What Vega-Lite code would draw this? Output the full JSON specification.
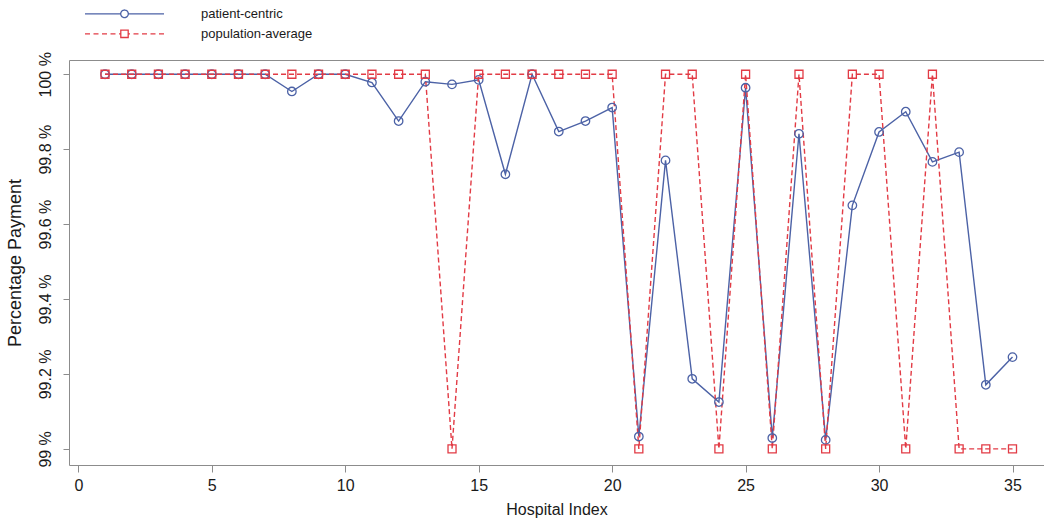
{
  "$schema": "https://vega.github.io/schema/vega-lite/v6.json",
  "width": 975,
  "height": 405,
  "autosize": {"type": "none"},
  "padding": {"left": 69, "top": 60, "right": 0, "bottom": 59},
  "background": "white",
  "config": {
    "view": {"stroke": null},
    "font": "Liberation Sans",
    "axis": {
      "grid": false,
      "domainColor": "#8c8c8c",
      "tickColor": "#8c8c8c",
      "labelColor": "#1a1a1a",
      "titleColor": "#1a1a1a",
      "labelFont": "Liberation Sans",
      "titleFont": "Liberation Sans",
      "titleFontWeight": "normal",
      "labelFontSize": 16,
      "titleFontSize": 16
    }
  },
  "data": {
    "values": [
      {"h": 1, "m": "patient-centric", "v": 100},
      {"h": 2, "m": "patient-centric", "v": 100},
      {"h": 3, "m": "patient-centric", "v": 100},
      {"h": 4, "m": "patient-centric", "v": 100},
      {"h": 5, "m": "patient-centric", "v": 100},
      {"h": 6, "m": "patient-centric", "v": 100},
      {"h": 7, "m": "patient-centric", "v": 100},
      {"h": 8, "m": "patient-centric", "v": 99.954},
      {"h": 9, "m": "patient-centric", "v": 100},
      {"h": 10, "m": "patient-centric", "v": 100},
      {"h": 11, "m": "patient-centric", "v": 99.978},
      {"h": 12, "m": "patient-centric", "v": 99.875},
      {"h": 13, "m": "patient-centric", "v": 99.98},
      {"h": 14, "m": "patient-centric", "v": 99.973},
      {"h": 15, "m": "patient-centric", "v": 99.985},
      {"h": 16, "m": "patient-centric", "v": 99.733},
      {"h": 17, "m": "patient-centric", "v": 100},
      {"h": 18, "m": "patient-centric", "v": 99.847},
      {"h": 19, "m": "patient-centric", "v": 99.875},
      {"h": 20, "m": "patient-centric", "v": 99.911},
      {"h": 21, "m": "patient-centric", "v": 99.033},
      {"h": 22, "m": "patient-centric", "v": 99.77},
      {"h": 23, "m": "patient-centric", "v": 99.187},
      {"h": 24, "m": "patient-centric", "v": 99.125},
      {"h": 25, "m": "patient-centric", "v": 99.964},
      {"h": 26, "m": "patient-centric", "v": 99.029},
      {"h": 27, "m": "patient-centric", "v": 99.841},
      {"h": 28, "m": "patient-centric", "v": 99.024},
      {"h": 29, "m": "patient-centric", "v": 99.65},
      {"h": 30, "m": "patient-centric", "v": 99.846},
      {"h": 31, "m": "patient-centric", "v": 99.9},
      {"h": 32, "m": "patient-centric", "v": 99.766},
      {"h": 33, "m": "patient-centric", "v": 99.792},
      {"h": 34, "m": "patient-centric", "v": 99.171},
      {"h": 35, "m": "patient-centric", "v": 99.245},
      {"h": 1, "m": "population-average", "v": 100},
      {"h": 2, "m": "population-average", "v": 100},
      {"h": 3, "m": "population-average", "v": 100},
      {"h": 4, "m": "population-average", "v": 100},
      {"h": 5, "m": "population-average", "v": 100},
      {"h": 6, "m": "population-average", "v": 100},
      {"h": 7, "m": "population-average", "v": 100},
      {"h": 8, "m": "population-average", "v": 100},
      {"h": 9, "m": "population-average", "v": 100},
      {"h": 10, "m": "population-average", "v": 100},
      {"h": 11, "m": "population-average", "v": 100},
      {"h": 12, "m": "population-average", "v": 100},
      {"h": 13, "m": "population-average", "v": 100},
      {"h": 14, "m": "population-average", "v": 99},
      {"h": 15, "m": "population-average", "v": 100},
      {"h": 16, "m": "population-average", "v": 100},
      {"h": 17, "m": "population-average", "v": 100},
      {"h": 18, "m": "population-average", "v": 100},
      {"h": 19, "m": "population-average", "v": 100},
      {"h": 20, "m": "population-average", "v": 100},
      {"h": 21, "m": "population-average", "v": 99},
      {"h": 22, "m": "population-average", "v": 100},
      {"h": 23, "m": "population-average", "v": 100},
      {"h": 24, "m": "population-average", "v": 99},
      {"h": 25, "m": "population-average", "v": 100},
      {"h": 26, "m": "population-average", "v": 99},
      {"h": 27, "m": "population-average", "v": 100},
      {"h": 28, "m": "population-average", "v": 99},
      {"h": 29, "m": "population-average", "v": 100},
      {"h": 30, "m": "population-average", "v": 100},
      {"h": 31, "m": "population-average", "v": 99},
      {"h": 32, "m": "population-average", "v": 100},
      {"h": 33, "m": "population-average", "v": 99},
      {"h": 34, "m": "population-average", "v": 99},
      {"h": 35, "m": "population-average", "v": 99}
    ]
  },
  "resolve": {"axis": {"x": "independent", "y": "independent"}},
  "layer": [
    {
      "transform": [{"filter": "datum.m === 'patient-centric'"}],
      "mark": {"type": "line", "strokeWidth": 1.4},
      "encoding": {
        "x": {
          "field": "h", "type": "quantitative",
          "scale": {"domain": [-0.35, 36.18], "nice": false, "zero": false},
          "axis": {
            "values": [0, 5, 10, 15, 20, 25, 30, 35],
            "title": "Hospital Index",
            "tickSize": 7,
            "labelPadding": 5,
            "titlePadding": 8,
            "labelFlush": false
          }
        },
        "y": {
          "field": "v", "type": "quantitative",
          "scale": {"domain": [98.957, 100.038], "nice": false, "zero": false},
          "axis": {
            "values": [99, 99.2, 99.4, 99.6, 99.8, 100],
            "labelExpr": "format(datum.value, '.1~f') + ' %'",
            "labelAngle": -90,
            "labelAlign": "center",
            "labelBaseline": "bottom",
            "labelFontSize": 16,
            "tickSize": 6,
            "labelPadding": 10,
            "title": "Percentage Payment",
            "titleFontSize": 18,
            "titlePadding": 13,
            "labelFlush": false
          }
        },
        "color": {
          "field": "m", "type": "nominal",
          "scale": {"domain": ["patient-centric", "population-average"], "range": ["#4c62a6", "#e23b45"]},
          "legend": {
            "title": null,
            "orient": "none",
            "legendX": 44.5,
            "legendY": -57.2,
            "padding": 0,
            "rowPadding": 2,
            "symbolSize": 400,
            "labelOffset": 65.5,
            "labelFontSize": 13,
            "labelFont": "Liberation Sans",
            "labelColor": "#1a1a1a",
            "encode": {
              "symbols": {
                "update": {
                  "shape": {"signal": "datum.value === 'patient-centric' ? 'M-3.95,0H-0.38M0.38,0H3.95M0.38,0A0.38,0.38,0,1,1,-0.38,0A0.38,0.38,0,1,1,0.38,0' : 'M-3.95,0H-3.45M-3.1,0H-2.6M-2.25,0H-1.75M-1.4,0H-0.9M-0.55,0H-0.37M0.37,0H0.55M0.9,0H1.4M1.75,0H2.25M2.6,0H3.1M3.45,0H3.95M-0.37,-0.37H0.37V0.37H-0.37Z'"},
                  "size": {"value": 400},
                  "fill": {"value": "transparent"},
                  "fillOpacity": {"value": 0},
                  "stroke": {"signal": "datum.value === 'patient-centric' ? '#4c62a6' : '#e23b45'"},
                  "strokeWidth": {"value": 1.3},
                  "strokeDash": {"value": [1, 0]},
                  "opacity": {"value": 1}
                }
              }
            }
          }
        }
      }
    },
    {
      "transform": [{"filter": "datum.m === 'population-average'"}],
      "mark": {"type": "line", "strokeWidth": 1.4, "strokeDash": [5, 3]},
      "encoding": {
        "x": {"field": "h", "type": "quantitative", "scale": {"domain": [-0.35, 36.18], "nice": false, "zero": false}, "axis": null},
        "y": {"field": "v", "type": "quantitative", "scale": {"domain": [98.957, 100.038], "nice": false, "zero": false}, "axis": null},
        "color": {"field": "m", "type": "nominal", "scale": {"domain": ["patient-centric", "population-average"], "range": ["#4c62a6", "#e23b45"]}, "legend": null}
      }
    },
    {
      "transform": [{"filter": "datum.m === 'patient-centric'"}],
      "mark": {"type": "point", "shape": "circle", "filled": false, "size": 72, "strokeWidth": 1.3, "opacity": 1},
      "encoding": {
        "x": {"field": "h", "type": "quantitative", "scale": {"domain": [-0.35, 36.18], "nice": false, "zero": false}, "axis": null},
        "y": {"field": "v", "type": "quantitative", "scale": {"domain": [98.957, 100.038], "nice": false, "zero": false}, "axis": null},
        "color": {"field": "m", "type": "nominal", "scale": {"domain": ["patient-centric", "population-average"], "range": ["#4c62a6", "#e23b45"]}, "legend": null}
      }
    },
    {
      "transform": [{"filter": "datum.m === 'population-average'"}],
      "mark": {"type": "point", "shape": "square", "filled": false, "size": 64, "strokeWidth": 1.3, "opacity": 1},
      "encoding": {
        "x": {
          "field": "h", "type": "quantitative",
          "scale": {"domain": [-0.35, 36.18], "nice": false, "zero": false},
          "axis": {"orient": "top", "labels": false, "ticks": false, "title": null, "domain": true}
        },
        "y": {"field": "v", "type": "quantitative", "scale": {"domain": [98.957, 100.038], "nice": false, "zero": false}, "axis": null},
        "color": {"field": "m", "type": "nominal", "scale": {"domain": ["patient-centric", "population-average"], "range": ["#4c62a6", "#e23b45"]}, "legend": null}
      }
    }
  ]
}
